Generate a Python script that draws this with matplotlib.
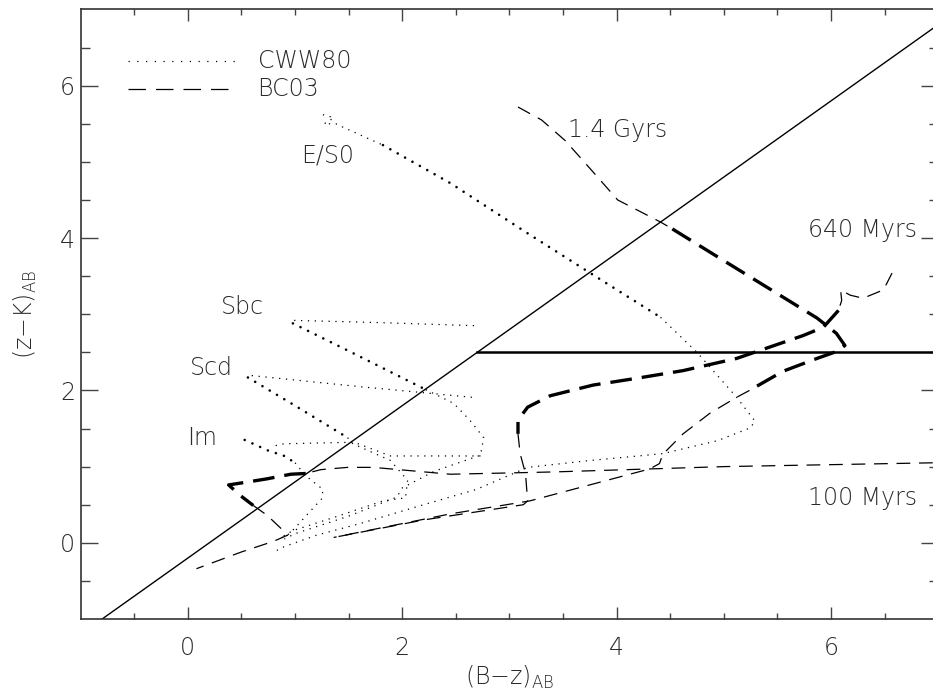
import matplotlib
matplotlib.use("Agg")
import matplotlib.pyplot as plt
import numpy as np

# ---- data (x = B-z, y = z-K, AB mags) ----
# selection boundaries
diag_x = [-0.8, 7.0]
diag_y = [-1.0, 6.8]
horiz_x = [2.7, 7.0]
horiz_y = [2.5, 2.5]

# CWW80 tracks: (thin, thick, thin) pieces
es0_thin1_x = [1.26, 1.36, 1.30, 1.27, 1.38, 1.44, 1.82]
es0_thin1_y = [5.62, 5.58, 5.52, 5.50, 5.50, 5.46, 5.22]
es0_thick_x = [1.82, 2.45, 3.15, 3.80, 4.41]
es0_thick_y = [5.22, 4.72, 4.08, 3.50, 2.96]
es0_thin2_x = [4.41, 4.75, 5.12, 5.29, 5.25, 4.94, 4.43, 3.75, 3.17, 2.69, 2.20, 1.60, 1.20, 0.90, 0.83]
es0_thin2_y = [2.96, 2.50, 1.91, 1.60, 1.51, 1.34, 1.17, 1.08, 0.99, 0.70, 0.50, 0.25, 0.10, -0.05, -0.10]

sbc_thin1_x = [2.67, 1.80, 0.97]
sbc_thin1_y = [2.85, 2.89, 2.92]
sbc_thick_x = [0.98, 1.54, 2.22]
sbc_thick_y = [2.88, 2.49, 2.01]
sbc_thin2_x = [2.22, 2.48, 2.63, 2.76, 2.73, 2.30, 2.00, 1.95, 1.50, 1.00, 0.90]
sbc_thin2_y = [2.01, 1.83, 1.61, 1.38, 1.15, 0.94, 0.72, 0.60, 0.35, 0.12, 0.05]

scd_thin1_x = [2.65, 1.60, 0.56]
scd_thin1_y = [1.91, 2.05, 2.20]
scd_thick_x = [0.56, 1.00, 1.49]
scd_thick_y = [2.17, 1.80, 1.38]
scd_thin2_x = [1.49, 1.54, 1.89, 2.05, 2.03, 1.82, 1.40, 0.98, 0.88]
scd_thin2_y = [1.38, 1.30, 1.08, 0.82, 0.59, 0.55, 0.35, 0.16, 0.08]

im_thin1_x = [2.73, 1.89, 1.55, 0.90, 0.80]
im_thin1_y = [1.14, 1.14, 1.32, 1.30, 1.27]
im_thick_x = [0.53, 0.75, 0.90, 1.00]
im_thick_y = [1.35, 1.21, 1.14, 1.05]
im_thin2_x = [1.00, 1.10, 1.26, 1.25, 1.10, 0.95, 0.85]
im_thin2_y = [1.05, 0.88, 0.70, 0.58, 0.35, 0.12, 0.05]

# BC03 tracks
g14_thin1_x = [3.08, 3.30, 3.52, 3.76, 4.01, 4.41, 4.52]
g14_thin1_y = [5.72, 5.55, 5.28, 4.90, 4.50, 4.21, 4.12]
g14_thick_x = [4.52, 5.20, 5.87, 6.05, 6.13, 6.05, 5.87, 5.55, 5.24]
g14_thick_y = [4.12, 3.53, 2.95, 2.75, 2.59, 2.51, 2.42, 2.25, 2.00]
g14_thin2_x = [5.24, 5.12, 4.87, 4.62, 4.43, 4.40, 4.31, 3.19, 2.45, 1.36]
g14_thin2_y = [2.00, 1.91, 1.70, 1.43, 1.16, 1.04, 0.97, 0.55, 0.38, 0.07]

m640_thin1_x = [6.57, 6.49, 6.30, 6.18, 6.09, 6.10, 6.07]
m640_thin1_y = [3.54, 3.32, 3.21, 3.25, 3.32, 3.18, 3.05]
m640_thick_x = [6.07, 5.93, 5.74, 5.43, 5.12, 4.62, 4.19, 3.78, 3.38, 3.17, 3.08, 3.08]
m640_thick_y = [3.05, 2.83, 2.72, 2.57, 2.42, 2.26, 2.16, 2.07, 1.93, 1.78, 1.61, 1.43]
m640_thin2_x = [3.08, 3.10, 3.15, 3.17, 3.13, 2.20, 1.36]
m640_thin2_y = [1.43, 1.17, 0.91, 0.55, 0.50, 0.30, 0.07]

m100_thin1_x = [6.95, 5.00, 3.41, 2.45, 1.73, 1.49, 1.24, 1.10]
m100_thin1_y = [1.05, 1.00, 0.93, 0.90, 0.99, 0.99, 0.96, 0.91]
m100_thick_x = [1.10, 0.96, 0.74, 0.52, 0.38, 0.49, 0.61]
m100_thick_y = [0.91, 0.90, 0.84, 0.79, 0.76, 0.62, 0.49]
m100_thin2_x = [0.61, 0.74, 0.86, 0.93, 0.80, 0.50, 0.08]
m100_thin2_y = [0.49, 0.36, 0.20, 0.10, 0.02, -0.12, -0.34]

# ---- style ----
plt.rcParams["font.family"] = ["DejaVu Sans"]
plt.rcParams["mathtext.fontset"] = "custom"
plt.rcParams["mathtext.rm"] = "DejaVu Sans:light"
txt_col = "#2a2a2a"
fs = 17

fig = plt.figure(figsize=(9.33, 6.93), dpi=100)
ax = fig.add_axes([0.0865, 0.1068, 0.919, 0.8795])

thin_dot = dict(color="k", lw=0.9, linestyle=(0, (1, 4.5)))
thick_dot = dict(color="k", lw=1.9, linestyle=(0, (0.01, 3.2)), dash_capstyle="round")
thin_dash = dict(color="k", lw=0.9, linestyle=(0, (11, 7)))
thick_dash = dict(color="k", lw=2.4, linestyle=(0, (6.5, 3)))

ax.plot(diag_x, diag_y, color="k", lw=1.0)
ax.plot(horiz_x, horiz_y, color="k", lw=1.8)

tracks_cww = [
    (es0_thin1_x, es0_thin1_y, es0_thick_x, es0_thick_y, es0_thin2_x, es0_thin2_y),
    (sbc_thin1_x, sbc_thin1_y, sbc_thick_x, sbc_thick_y, sbc_thin2_x, sbc_thin2_y),
    (scd_thin1_x, scd_thin1_y, scd_thick_x, scd_thick_y, scd_thin2_x, scd_thin2_y),
    (im_thin1_x, im_thin1_y, im_thick_x, im_thick_y, im_thin2_x, im_thin2_y),
]
for t1x, t1y, tkx, tky, t2x, t2y in tracks_cww:
    ax.plot(t1x, t1y, **thin_dot)
    ax.plot(tkx, tky, **thick_dot)
    ax.plot(t2x, t2y, **thin_dot)

tracks_bc = [
    (g14_thin1_x, g14_thin1_y, g14_thick_x, g14_thick_y, g14_thin2_x, g14_thin2_y),
    (m640_thin1_x, m640_thin1_y, m640_thick_x, m640_thick_y, m640_thin2_x, m640_thin2_y),
    (m100_thin1_x, m100_thin1_y, m100_thick_x, m100_thick_y, m100_thin2_x, m100_thin2_y),
]
for t1x, t1y, tkx, tky, t2x, t2y in tracks_bc:
    ax.plot(t1x, t1y, **thin_dash)
    ax.plot(tkx, tky, **thick_dash)
    ax.plot(t2x, t2y, **thin_dash)

# legend drawn by hand, IDL style
ax.plot([-0.56, 0.46], [6.32, 6.32], color="k", lw=0.9, linestyle=(0, (1, 6)))
ax.plot([-0.56, 0.46], [5.95, 5.95], color="k", lw=0.9, linestyle=(0, (14, 8)))
tkw = dict(fontsize=fs, color=txt_col, fontweight="light", va="center")
ax.text(0.65, 6.32, "CWW80", **tkw)
ax.text(0.65, 5.95, "BC03", **tkw)

ax.text(1.30, 5.09, "E/S0", ha="center", **tkw)
ax.text(0.51, 3.09, "Sbc", ha="center", **tkw)
ax.text(0.22, 2.29, "Scd", ha="center", **tkw)
ax.text(0.13, 1.38, "Im", ha="center", **tkw)
ax.text(4.01, 5.42, "1.4 Gyrs", ha="center", **tkw)
ax.text(6.80, 4.10, "640 Myrs", ha="right", **tkw)
ax.text(6.80, 0.59, "100 Myrs", ha="right", **tkw)

ax.set_xlim(-1, 7)
ax.set_ylim(-1, 7)
ax.set_xticks([0, 2, 4, 6])
ax.set_yticks([0, 2, 4, 6])
ax.set_xticks(np.arange(-0.5, 7.0, 0.5), minor=True)
ax.set_yticks(np.arange(-0.5, 7.0, 0.5), minor=True)
ax.tick_params(axis="both", which="both", direction="in", top=True, right=True,
               labelsize=fs, labelcolor=txt_col, color="#444444", width=1.0)
ax.tick_params(axis="x", which="major", length=8.6, pad=12)
ax.tick_params(axis="x", which="minor", length=4.3)
ax.tick_params(axis="y", which="major", length=12.2, pad=4)
ax.tick_params(axis="y", which="minor", length=6.2)
for lab in ax.get_xticklabels() + ax.get_yticklabels():
    lab.set_fontweight("light")
for sp in ax.spines.values():
    sp.set_linewidth(1.2)
    sp.set_color("#333333")

ax.set_xlabel(r"(B$-$z)$_{\mathrm{AB}}$", fontsize=fs, color=txt_col, fontweight="light", labelpad=3)
ax.set_ylabel(r"(z$-$K)$_{\mathrm{AB}}$", fontsize=fs, color=txt_col, fontweight="light", labelpad=15)

fig.savefig("out.png", dpi=100)
